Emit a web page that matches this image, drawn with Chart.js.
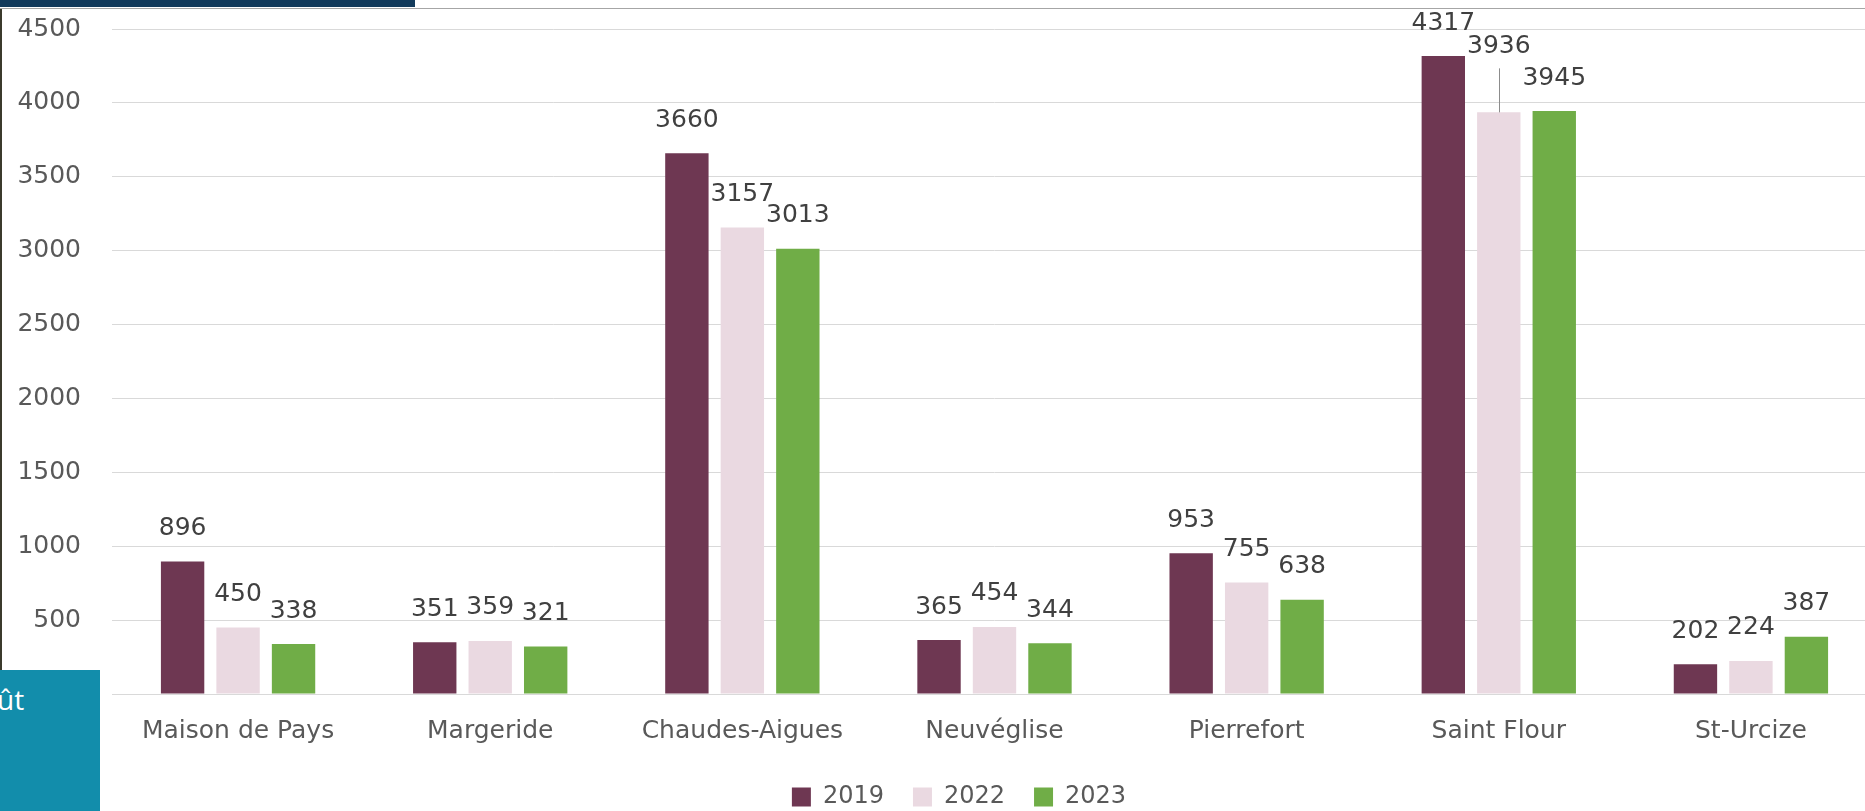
<!DOCTYPE html>
<html lang="fr">
<head>
<meta charset="utf-8">
<title>Fréquentation</title>
<script src="https://cdn.jsdelivr.net/npm/chart.js@4/dist/chart.umd.min.js"></script>
<style>
  html, body { margin: 0; padding: 0; background: #fff; overflow: hidden; }
  body { width: 1865px; height: 811px; position: relative; }
  #c { position: absolute; left: 0; top: 0; }
  .topbar { position: absolute; left: 0; top: 0; width: 415px; height: 7px; background: #123a5b; z-index: 2; }
  .topline { position: absolute; left: 0; top: 8px; width: 1865px; height: 1px; background: #a6a6a6; z-index: 2; }
  .strip { position: absolute; left: 0; top: 9px; width: 2px; height: 661px; background: #3b3a2c; z-index: 2; }
  .tag {
    position: absolute; left: 0; top: 670px; width: 100px; height: 141px;
    background: #128dab; z-index: 2; overflow: hidden;
    color: #fff; font: 28px "Open Sans", sans-serif;
  }
  .tag span { position: absolute; left: -3px; top: 10px; }
</style>
</head>
<body>
<canvas id="c" width="1918" height="811"></canvas>
<div class="topbar"></div>
<div class="topline"></div>
<div class="strip"></div>
<div class="tag"><span>ût</span></div>
<script>
(function () {
  "use strict";

  const sites = ["Maison de Pays", "Margeride", "Chaudes-Aigues", "Neuvéglise", "Pierrefort", "Saint Flour", "St-Urcize"];
  const years = ["2019", "2022", "2023"];
  const v2019 = [896, 351, 3660, 365, 953, 4317, 202];
  const v2022 = [450, 359, 3157, 454, 755, 3936, 224];
  const v2023 = [338, 321, 3013, 344, 638, 3945, 387];

  Chart.defaults.font.family = '"DejaVu Sans", sans-serif';
  Chart.defaults.color = "#595959";

  // values written above each bar; one label raised with a leader line
  const valueLabels = {
    id: "valueLabels",
    afterDatasetsDraw(chart, args, opts) {
      const ctx = chart.ctx;
      ctx.save();
      ctx.font = opts.font;
      ctx.textAlign = "center";
      ctx.textBaseline = "middle";
      chart.data.datasets.forEach(function (ds, di) {
        chart.getDatasetMeta(di).data.forEach(function (bar, i) {
          const lift = opts.lift[di + ":" + i] || 0;
          const y = bar.y - opts.offset - lift;
          if (lift) {
            ctx.strokeStyle = "#8c8c8c";
            ctx.lineWidth = 1;
            ctx.beginPath();
            ctx.moveTo(Math.round(bar.x) + 0.5, y + 22);
            ctx.lineTo(Math.round(bar.x) + 0.5, bar.y);
            ctx.stroke();
          }
          ctx.fillStyle = opts.color;
          ctx.fillText(String(ds.data[i]), bar.x, y);
        });
      });
      ctx.restore();
    },
  };

  const colors = ["#6e3752", "#ead9e1", "#70ad47"];
  const series = [v2019, v2022, v2023];

  new Chart(document.getElementById("c").getContext("2d"), {
    type: "bar",
    data: {
      labels: sites,
      datasets: years.map(function (y, i) {
        return {
          label: y,
          data: series[i],
          backgroundColor: colors[i],
          borderWidth: 0,
          categoryPercentage: 0.66,
          barPercentage: 0.782,
        };
      }),
    },
    options: {
      responsive: false,
      animation: false,
      layout: { padding: { top: 29, bottom: 0, left: 0, right: 0 } },
      plugins: {
        tooltip: { enabled: false },
        legend: {
          position: "bottom",
          maxHeight: 55,
          labels: {
            boxWidth: 19,
            boxHeight: 19,
            padding: 29,
            color: "#595959",
            font: { size: 24 },
          },
        },
        valueLabels: {
          font: '25px "DejaVu Sans", sans-serif',
          color: "#404040",
          offset: 33,
          lift: { "1:5": 33 },
        },
      },
      scales: {
        x: {
          grid: { display: false, drawTicks: false },
          border: { display: true, color: "#d9d9d9", width: 1 },
          ticks: {
            color: "#595959",
            font: { size: 25 },
            padding: 22,
            maxRotation: 0,
            autoSkip: false,
          },
          afterFit: function (s) { s.height = 62; },
        },
        y: {
          min: 0,
          max: 4500,
          grid: { color: "#d9d9d9", lineWidth: 1, drawTicks: false },
          border: { display: false },
          ticks: {
            stepSize: 500,
            color: "#595959",
            font: { size: 25 },
            padding: 31,
            callback: function (v) { return String(v); },
          },
          afterFit: function (s) {
            s.width = 112;
            s.paddingTop = 0;
            s.paddingBottom = 0;
          },
        },
        yRight: {
          position: "right",
          grid: { display: false, drawTicks: false },
          border: { display: false },
          ticks: { display: false },
          afterFit: function (s) { s.width = 41; },
        },
      },
    },
    plugins: [valueLabels],
  });
})();
</script>
</body>
</html>
